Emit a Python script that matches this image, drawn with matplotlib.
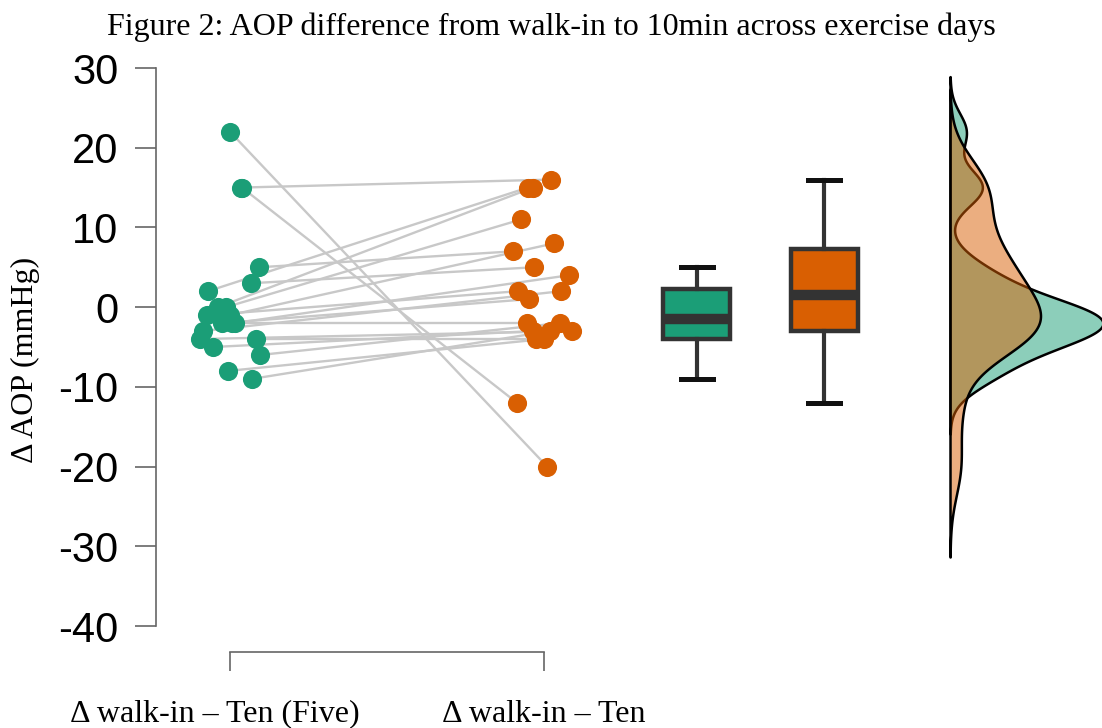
import matplotlib
matplotlib.use("Agg")
import matplotlib.pyplot as plt
import matplotlib.colors as mcolors
import matplotlib.transforms as mtrans
import numpy as np

# paired AOP differences (mmHg), one row per subject
five = [22, 15, 15, 5, 3, 2, 0, 0, -1, -1, -2, -2, -2, -3, -4, -4, -5, -6, -8, -9]
ten = [-20, 16, -12, 7, 5, 15, 15, 11, 8, 2, 4, 1, -2, 2, -3, -4, -3, -2, -4, -3]

# horizontal jitter of the dots (in category units)
jit_five = [0.0, 0.035, 0.038, 0.093, 0.067, -0.070, -0.038, -0.013, 0.0, -0.073,
            0.016, -0.025, 0.006, -0.086, -0.096, 0.083, -0.054, 0.096, -0.006, 0.070]
jit_ten = [0.010, 0.022, -0.086, -0.099, -0.032, -0.051, -0.035, -0.073, 0.032, -0.083,
           0.080, -0.048, -0.054, 0.054, 0.089, -0.025, -0.035, 0.051, 0.0, 0.019]

labels = ["\u0394 walk-in \u2013 Ten (Five)", "\u0394 walk-in \u2013 Ten"]
cols = ["#1b9e77", "#d95f02"]


def kde(vals, n=512):
    # gaussian kde, R-style bw.nrd0 and cut = 3
    v = np.asarray(vals, float)
    q75, q25 = np.percentile(v, [75, 25])
    bw = 0.9 * min(v.std(ddof=1), (q75 - q25) / 1.34) * len(v) ** -0.2
    y = np.linspace(v.min() - 3 * bw, v.max() + 3 * bw, n)
    d = np.exp(-0.5 * ((y[:, None] - v[None, :]) / bw) ** 2).sum(1) / (len(v) * bw * np.sqrt(2 * np.pi))
    return y, d


fig = plt.figure(figsize=(11.02, 7.28), dpi=100)
ax = fig.add_axes([156 / 1102, 102 / 728, 946 / 1102, 558 / 728])
ax.set_xlim(1 - 74 / 314, 1 + 872 / 314)
ax.set_ylim(-40, 30)

# paired lines + dots
x1 = 1 + np.array(jit_five)
x2 = 2 + np.array(jit_ten)
for a, b, ya, yb in zip(x1, x2, five, ten):
    ax.plot([a, b], [ya, yb], color="#c8c8c8", lw=1.7, zorder=1)
ax.scatter(x1, five, s=190, color=cols[0], zorder=3, linewidths=0)
ax.scatter(x2, ten, s=190, color=cols[1], zorder=3, linewidths=0)

# boxplots
bp = ax.boxplot([five, ten], positions=[2.487, 2.892], widths=0.213, capwidths=0.1,
                showfliers=False, patch_artist=True, manage_ticks=False, zorder=2)
for p, c in zip(bp["boxes"], cols):
    p.set_facecolor(c)
    p.set_edgecolor("#333333")
    p.set_linewidth(3.2)
for w in bp["whiskers"]:
    w.set_color("#333333")
    w.set_linewidth(3.0)
for c in bp["caps"]:
    c.set_color("#111111")
    c.set_linewidth(3.6)
for m in bp["medians"]:
    m.set_color("#333333")
    m.set_linewidth(7.5)

# half densities
base = 3.293
dens = [kde(five), kde(ten)]
scale = 0.487 / max(d.max() for _, d in dens)
for (y, d), c in zip(dens, cols):
    ax.fill_betweenx(y, base, base + d * scale, facecolor=mcolors.to_rgba(c, 0.5),
                     edgecolor="black", linewidth=1.8, zorder=2, clip_on=False)

# axes styling (R-like)
for s in ["top", "right"]:
    ax.spines[s].set_visible(False)
ax.spines["left"].set_bounds(-40, 30)
ax.spines["left"].set_color("#666666")
ax.spines["left"].set_linewidth(1.2)
ax.spines["bottom"].set_bounds(1, 2)
ax.spines["bottom"].set_position(("outward", 19))
ax.spines["bottom"].set_color("#666666")
ax.spines["bottom"].set_linewidth(1.2)
ax.set_yticks(range(-40, 31, 10))
ax.set_yticklabels([str(t) for t in range(-40, 31, 10)], family="Liberation Sans", fontsize=30)
ax.tick_params(axis="y", length=15, width=1.2, color="#666666", pad=12)
ax.set_xticks([1, 2])
ax.set_xticklabels(labels, family="Liberation Serif", fontsize=23)
ax.tick_params(axis="x", length=14, width=1.2, color="#666666", pad=20)
lab0 = ax.get_xticklabels()[0]
lab0.set_transform(lab0.get_transform() + mtrans.ScaledTranslation(-0.15, 0, fig.dpi_scale_trans))

ax.set_ylabel("\u0394 AOP (mmHg)", family="Liberation Serif", fontsize=23)
ax.yaxis.set_label_coords(-116 / 946, 0.477)
fig.suptitle("Figure 2: AOP difference from walk-in to 10min across exercise days",
             family="Liberation Serif", fontsize=23, y=0.962, va="center")

fig.savefig("out.png", dpi=100)
